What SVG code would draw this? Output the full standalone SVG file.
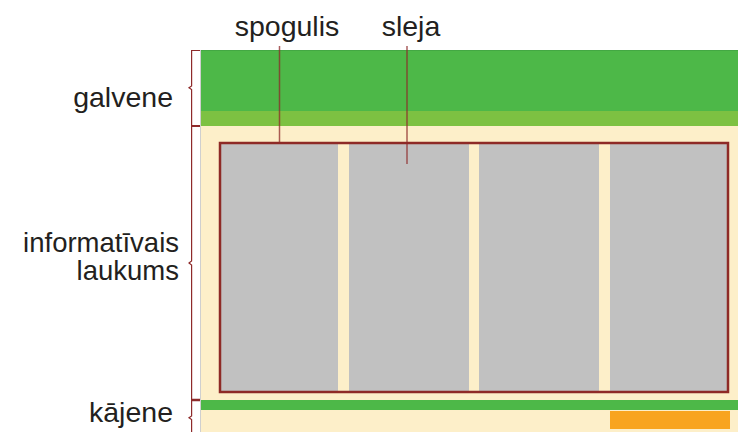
<svg xmlns="http://www.w3.org/2000/svg" width="738" height="432" viewBox="0 0 738 432">
<style>
.lbl{font-family:"Liberation Sans",Arial,sans-serif;font-size:28.5px;fill:#231f20}
.lbl2{font-family:"Liberation Sans",Arial,sans-serif;font-size:27.5px;fill:#231f20}
.brace{fill:none;stroke:#8e2a2a;stroke-width:1.2}
.lead{fill:none;stroke:#8e2a2a;stroke-width:1.5;stroke-opacity:0.75}
.col{fill:#c1c1c1}
</style>
<rect width="738" height="432" fill="#ffffff"/>
<g id="page">
  <rect x="201" y="50" width="537" height="382" fill="#fdefc9"/>
  <line x1="200.5" y1="50" x2="200.5" y2="432" stroke="#cfcfcf" stroke-width="1"/>
</g>
<g id="galvene">
  <rect x="201" y="50" width="537" height="61" fill="#4db848"/>
  <line x1="201" y1="50.5" x2="738" y2="50.5" stroke="#43a843" stroke-width="1"/>
  <rect x="201" y="111" width="537" height="15" fill="#7dc142"/>
</g>
<g id="sleja-1"><rect class="col" x="221" y="144" width="117" height="247"/></g>
<g id="sleja-2"><rect class="col" x="349" y="144" width="120" height="247"/></g>
<g id="sleja-3"><rect class="col" x="479" y="144" width="120" height="247"/></g>
<g id="sleja-4"><rect class="col" x="610" y="144" width="117" height="247"/></g>
<g id="spogulis">
  <rect x="220" y="143" width="508" height="249" fill="none" stroke="#8e2a26" stroke-width="2.5"/>
</g>
<g id="kajene">
  <rect x="201" y="400" width="537" height="10" fill="#4db848"/>
  <rect x="610" y="411" width="120" height="18" fill="#f8a41f"/>
</g>
<g id="labels">
  <text class="lbl" x="287" y="36" text-anchor="middle">spogulis</text>
  <text class="lbl" x="411" y="36" text-anchor="middle">sleja</text>
  <text class="lbl" x="173" y="107" text-anchor="end">galvene</text>
  <text class="lbl2" x="179" y="252" text-anchor="end">informatīvais</text>
  <text class="lbl2" x="179" y="280" text-anchor="end">laukums</text>
  <text class="lbl" x="173" y="422" text-anchor="end">kājene</text>
</g>
<g id="connectors">
  <line class="lead" x1="279.5" y1="46" x2="279.5" y2="142"/>
  <line class="lead" x1="407" y1="46" x2="407" y2="164"/>
  <path class="brace" d="M200,50.5 H191.6 V86 L189,87.7 L191.6,89.5 V125.6 H200"/>
  <path class="brace" d="M200,126.4 H191.6 V261 L189,263 L191.6,265 V399.4 H200"/>
  <path class="brace" d="M200,400.6 H191.6 V416 L189,417.7 L191.6,419.5 V432"/>
</g>
</svg>
